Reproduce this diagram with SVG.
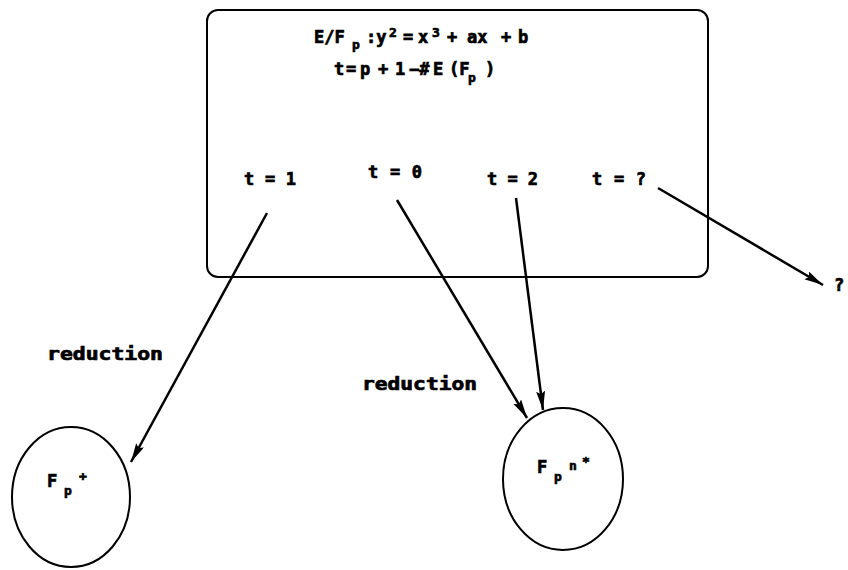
<svg xmlns="http://www.w3.org/2000/svg" width="848" height="570" viewBox="0 0 848 570">
<style>
text{font-family:"DejaVu Sans Mono","Liberation Mono",monospace;font-weight:bold;fill:#000;stroke:#000;stroke-width:0.7}
.t{font-size:17px}
.s{font-size:13px}
.lbl{font-size:17px}
.shape{fill:none;stroke:#000;stroke-width:2}
.conn{stroke:#000;stroke-width:2.5;fill:none}
</style>
<defs>
<marker id="ah" markerUnits="userSpaceOnUse" markerWidth="20" markerHeight="10" refX="19" refY="4.5" orient="auto">
<path d="M0,0 L19,4.5 L0,9 L3,4.5 Z" fill="#000"/>
</marker>
</defs>
<rect width="848" height="570" fill="#fff"/>
<g id="box">
<rect class="shape" x="207" y="10" width="501" height="267" rx="11"/>
<text class="t" y="43"><tspan x="314">E/F</tspan><tspan class="s" x="352" y="49">p</tspan><tspan x="366" y="43">:y</tspan><tspan class="s" x="389" y="37">2</tspan><tspan x="403" y="43">=</tspan><tspan x="418">x</tspan><tspan class="s" x="432" y="37">3</tspan><tspan x="447" y="43">+</tspan><tspan x="467">ax</tspan><tspan x="501">+</tspan><tspan x="518">b</tspan></text>
<text class="t" y="75"><tspan x="334">t</tspan><tspan x="346">=</tspan><tspan x="360">p</tspan><tspan x="378">+</tspan><tspan x="395">1</tspan><tspan x="409">−#</tspan><tspan x="433">E</tspan><tspan x="449">(F</tspan><tspan class="s" x="468" y="82">p</tspan><tspan x="485" y="75">)</tspan></text>
<text class="t" x="244" y="185" textLength="52">t = 1</text>
<text class="t" x="368" y="178" textLength="54">t = 0</text>
<text class="t" x="487" y="185" textLength="51">t = 2</text>
<text class="t" x="592" y="185" textLength="54">t = ?</text>
</g>
<g id="node-fp">
<ellipse class="shape" cx="71" cy="497" rx="59" ry="70"/>
<text class="t" y="487"><tspan x="47">F</tspan><tspan class="s" x="64" y="495">p</tspan><tspan class="s" x="79" y="481">+</tspan></text>
</g>
<g id="node-fpn">
<ellipse class="shape" cx="563" cy="479" rx="60" ry="71"/>
<text class="t" y="473"><tspan x="537">F</tspan><tspan class="s" x="554" y="481">p</tspan><tspan class="s" x="569" y="470">n</tspan><tspan class="s" x="582" y="466">*</tspan></text>
</g>
<g id="node-q">
<text class="t" x="834" y="291">?</text>
</g>
<g id="connectors">
<line class="conn" x1="267" y1="213" x2="131" y2="462" marker-end="url(#ah)"/>
<line class="conn" x1="397" y1="200" x2="527" y2="418" marker-end="url(#ah)"/>
<line class="conn" x1="516" y1="198" x2="543" y2="410" marker-end="url(#ah)"/>
<line class="conn" x1="658" y1="188" x2="823" y2="285" marker-end="url(#ah)"/>
<text class="lbl" x="47" y="360" textLength="116" lengthAdjust="spacingAndGlyphs">reduction</text>
<text class="lbl" x="362" y="390" textLength="115" lengthAdjust="spacingAndGlyphs">reduction</text>
</g>
</svg>
